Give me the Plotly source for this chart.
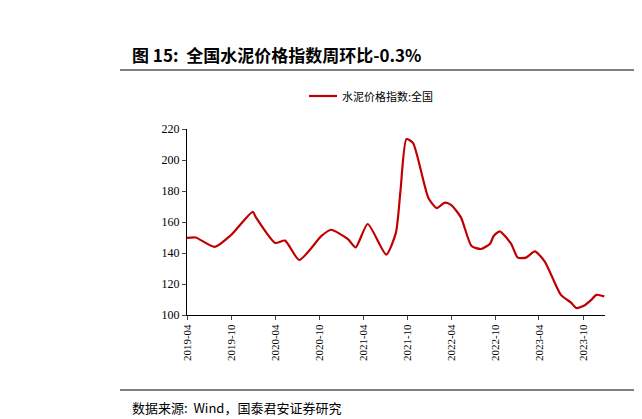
import plotly.graph_objects as go

dates = ['2019-04-01', '2019-05-07', '2019-07-25', '2019-10-01', '2019-12-30', '2020-01-12',
         '2020-04-01', '2020-05-12', '2020-07-10', '2020-10-10', '2020-11-18', '2021-01-28',
         '2021-03-01', '2021-04-20', '2021-07-06', '2021-08-15', '2021-09-03', '2021-09-28',
         '2021-10-25', '2021-12-28', '2022-02-01', '2022-03-06', '2022-04-01', '2022-05-12',
         '2022-06-25', '2022-08-03', '2022-09-10', '2022-09-25', '2022-10-20', '2022-12-06',
         '2023-01-03', '2023-02-06', '2023-03-15', '2023-04-25', '2023-07-01', '2023-08-12',
         '2023-09-03', '2023-10-10', '2023-11-03', '2023-11-25', '2023-12-28']
values = [149.7, 150, 143.9, 151.6, 166.5, 163,
          146.5, 148, 135.5, 151, 155, 149,
          143.6, 158.7, 139, 153, 180, 213.5,
          211, 175.5, 169, 172.5, 171, 163,
          144.5, 142.6, 146, 151, 154, 146,
          137, 137, 141, 134.5, 113, 108,
          104.5, 106.5, 109.6, 113, 112]

ticks = ['2019-04', '2019-10', '2020-04', '2020-10', '2021-04', '2021-10',
         '2022-04', '2022-10', '2023-04', '2023-10']

serif = 'Liberation Serif, Noto Sans CJK SC'
cjk = 'Noto Sans CJK SC'
H = 186  # plot height in px, for paper coords

fig = go.Figure()
fig.add_trace(go.Scatter(x=dates, y=values, mode='lines', name='水泥价格指数:全国',
                         line=dict(color='#c00000', width=2.2, shape='spline', smoothing=0.6)))

fig.update_layout(
    width=642, height=419, template=None, plot_bgcolor='white', paper_bgcolor='white',
    margin=dict(l=179, r=45, t=121, b=112, autoexpand=False),
    font=dict(family=serif, size=11, color='black'),
    showlegend=False,
)
fig.update_xaxes(type='date', range=['2019-04-01', '2023-12-31'], automargin=False,
                 tickvals=[t + '-01' for t in ticks], ticktext=ticks, tickangle=-90,
                 showgrid=False, showline=True, linecolor='black', ticks='outside',
                 ticklen=4, tickfont=dict(size=11))
fig.update_yaxes(range=[100, 220], dtick=20, showgrid=False, showline=True, automargin=False,
                 linecolor='black', ticks='outside', ticklen=4, tickfont=dict(size=12))

# legend drawn by hand so it does not push the plot area
fig.add_shape(type='line', xref='paper', yref='paper', x0=122 / 418, x1=150 / 418,
              y0=1 + 33 / H, y1=1 + 33 / H, line=dict(color='#c00000', width=2.2))
fig.add_annotation(text='水泥价格指数:全国', xref='paper', yref='paper', x=153 / 418,
                   y=1 + 33 / H, xanchor='left', yanchor='middle', showarrow=False,
                   font=dict(size=11, family=cjk))

fig.add_annotation(text='<b>图 15:  全国水泥价格指数周环比-0.3%</b>', xref='paper', yref='paper',
                   x=-57 / 418, y=1 + 74 / H, xanchor='left', yanchor='middle', showarrow=False,
                   font=dict(size=17, family=cjk))
fig.add_annotation(text='<b>图</b>', xref='paper', yref='paper', x=1 + 45 / 418, y=1 + 74 / H,
                   xanchor='right', yanchor='middle', showarrow=False,
                   font=dict(size=13, family=cjk))
fig.add_annotation(text='数据来源:  Wind，国泰君安证券研究', xref='paper', yref='paper',
                   x=-57 / 418, y=-92 / H, xanchor='left', yanchor='middle', showarrow=False,
                   font=dict(size=13, family=cjk))
fig.add_annotation(text='数', xref='paper', yref='paper', x=1 + 45 / 418, y=-92 / H,
                   xanchor='right', yanchor='middle', showarrow=False,
                   font=dict(size=11, family=cjk))
fig.add_shape(type='line', xref='paper', yref='paper', x0=-67 / 418, x1=1 + 45 / 418,
              y0=1 + 59 / H, y1=1 + 59 / H, line=dict(color='black', width=1))
fig.add_shape(type='line', xref='paper', yref='paper', x0=-67 / 418, x1=1 + 45 / 418,
              y0=-75 / H, y1=-75 / H, line=dict(color='black', width=1))

fig.write_html('out.html')
